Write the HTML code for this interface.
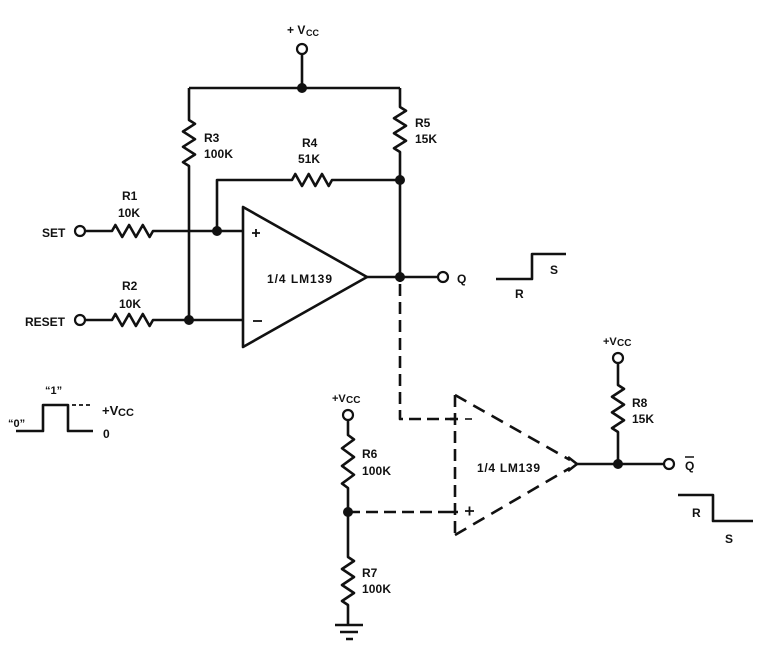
<!DOCTYPE html>
<html><head><meta charset="utf-8"><style>
html,body{margin:0;padding:0;background:#fff;}
svg{display:block;}
text{font-family:"Liberation Sans",Arial,sans-serif;font-weight:bold;fill:#111;}
</style></head><body>
<svg width="766" height="653" viewBox="0 0 766 653" xmlns="http://www.w3.org/2000/svg">
<g fill="none" stroke="#111" stroke-width="2.6" stroke-linejoin="round" stroke-linecap="butt">
<!-- top vcc -->
<circle cx="302" cy="49" r="5" stroke-width="2.2"/>
<path d="M302,54 V88"/>
<path d="M189,88 H400"/>
<!-- R3 left vertical -->
<path d="M189,88 V120 L195,123.8 L183,131.5 L195,139.2 L183,146.8 L195,154.5 L183,162.2 L189,166 V320"/>
<!-- R5 right vertical -->
<path d="M400,88 V107 L406,110.75 L394,118.25 L406,125.75 L394,133.25 L406,140.75 L394,148.25 L400,152 V282"/>
<!-- R4 -->
<path d="M217,231 V180 H292 L295.3,174 L302,186 L308.7,174 L315.3,186 L322,174 L328.7,186 L332,180 H400"/>
<!-- SET -->
<circle cx="80" cy="231" r="5" stroke-width="2.2"/>
<path d="M85,231 H112 L115.4,225 L122.2,237 L129.1,225 L135.9,237 L142.8,225 L149.6,237 L153,231 H243"/>
<!-- RESET -->
<circle cx="80" cy="320" r="5" stroke-width="2.2"/>
<path d="M85,320 H112 L115.4,314 L122.2,326 L129.1,314 L135.9,326 L142.8,314 L149.6,326 L153,320 H243"/>
<!-- opamp 1 -->
<path d="M243,207 L243,347 L367,277 Z"/>
<path d="M252,233 H260 M256,229 V237" stroke-width="1.8"/>
<path d="M253,321 H262" stroke-width="1.8"/>
<path d="M367,277 H438"/>
<circle cx="443" cy="277" r="5" stroke-width="2.2"/>
<!-- Q waveform -->
<path d="M496,279 H532 V254 H566"/>
<!-- dashed link -->
<path d="M400,284 V419 H455" stroke-dasharray="12 6"/>
<!-- opamp 2 dashed -->
<path d="M455,395 L455,535" stroke-dasharray="12 6"/>
<path d="M455,395 L570,460" stroke-dasharray="13 8"/>
<path d="M455,535 L570,468" stroke-dasharray="13 8"/>
<path d="M568,457 L577,464 L568,471"/>
<path d="M450,419 H458 M450,512 H458"/>
<path d="M465,419 H472" stroke-width="1.6"/>
<path d="M465,511 H474 M469.5,506.5 V515.5" stroke-width="1.8"/>
<path d="M577,464 H664"/>
<circle cx="669" cy="464" r="5" stroke-width="2.2"/>
<!-- R8 -->
<circle cx="618" cy="358" r="5" stroke-width="2.2"/>
<path d="M618,363 V385 L624,388.9 L612,396.75 L624,404.6 L612,412.4 L624,420.25 L612,428.1 L618,432 V464"/>
<!-- R6 R7 -->
<circle cx="348" cy="415" r="5" stroke-width="2.2"/>
<path d="M348,420 V435 L354,439.4 L342,448.25 L354,457.1 L342,465.9 L354,474.75 L342,483.6 L348,488 V557 L354,561 L342,569 L354,577 L342,585 L354,593 L342,601 L348,605 V625"/>
<path d="M335,625 H363 M340,632 H358 M346,639 H353"/>
<path d="M348,512 H455" stroke-dasharray="12 6"/>
<!-- Qbar waveform -->
<path d="M678,495 H713 V521 H753"/>
<!-- bottom-left waveform -->
<path d="M16,431 H43 V405 H68 V431 H93"/>
<path d="M72,405 H90" stroke-dasharray="4 3" stroke-width="1.8"/>
</g>
<!-- dots -->
<g fill="#111">
<circle cx="302" cy="88" r="5"/>
<circle cx="400" cy="180" r="5"/>
<circle cx="217" cy="231" r="5"/>
<circle cx="189" cy="320" r="5"/>
<circle cx="400" cy="277" r="5"/>
<circle cx="618" cy="464" r="5"/>
<circle cx="348" cy="512" r="5"/>
</g>
<!-- text -->
<g font-size="12">
<text x="287" y="34">+ V</text><text x="306" y="36" font-size="9">CC</text>
<text x="204" y="142">R3</text><text x="204" y="158" textLength="29">100K</text>
<text x="302" y="147">R4</text><text x="298" y="163">51K</text>
<text x="415" y="127">R5</text><text x="415" y="143">15K</text>
<text x="122" y="200">R1</text><text x="118" y="217">10K</text>
<text x="122" y="290">R2</text><text x="119" y="308">10K</text>
<text x="42" y="237">SET</text>
<text x="25" y="326">RESET</text>
<text x="267" y="283" textLength="65">1/4 LM139</text>
<text x="457" y="283">Q</text>
<text x="515" y="298">R</text>
<text x="550" y="274">S</text>
<text x="477" y="472" textLength="63">1/4 LM139</text>
<text x="685" y="470">Q</text>
<path d="M685,457 H694" stroke="#111" stroke-width="1.5"/>
<text x="603" y="345" font-size="11" font-weight="normal">+V</text><text x="617" y="346" font-size="10" font-weight="normal">CC</text>
<text x="632" y="407">R8</text><text x="632" y="423">15K</text>
<text x="332" y="402" font-size="11" font-weight="normal">+V</text><text x="346" y="403" font-size="10" font-weight="normal">CC</text>
<text x="362" y="458">R6</text><text x="362" y="475" textLength="29">100K</text>
<text x="362" y="577">R7</text><text x="362" y="593" textLength="29">100K</text>
<text x="692" y="517">R</text>
<text x="725" y="543">S</text>
<text x="8" y="427" font-size="11">“0”</text>
<text x="45" y="394" font-size="11">“1”</text>
<text x="102" y="415" font-size="13" font-weight="normal">+V</text><text x="118" y="416" font-size="11" font-weight="normal">CC</text>
<text x="103" y="438">0</text>
</g>
</svg>
</body></html>
